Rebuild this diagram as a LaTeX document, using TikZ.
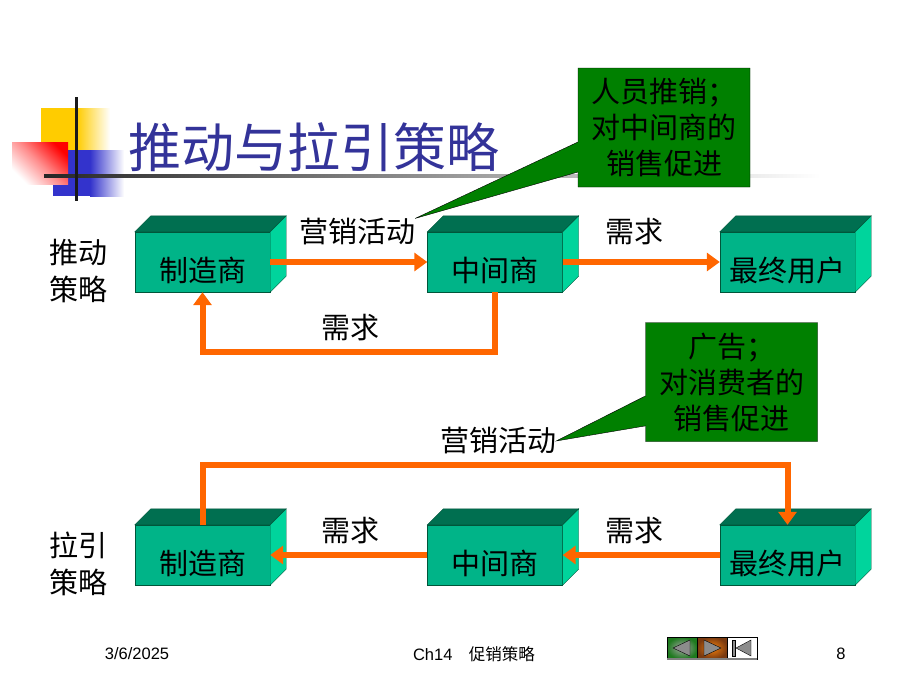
\documentclass[tikz,border=0pt]{standalone}
\usepackage{fontspec}
\setmainfont{Liberation Sans}
\newfontfamily\cjk{Noto Sans CJK SC}
\usetikzlibrary{arrows.meta,calc,shapes.callouts,shadings}
\definecolor{BoxFront}{HTML}{00B488}
\definecolor{BoxTop}{HTML}{006F50}
\definecolor{BoxSide}{HTML}{00D49C}
\definecolor{BoxEdge}{HTML}{00563A}
\definecolor{FlowOrange}{HTML}{FF6600}
\definecolor{NoteGreen}{HTML}{008000}
\definecolor{TitleBlue}{HTML}{333399}
\definecolor{DecoYellow}{HTML}{FFCC00}
\definecolor{DecoBlue}{HTML}{3333CC}
\definecolor{NavGreen}{HTML}{1E7A1E}
\definecolor{NavBrown}{HTML}{7A3A10}

\begin{document}
\begin{tikzpicture}[x=1pt,y=-1pt,
    party/.style={draw=BoxEdge,fill=BoxFront,minimum width=135pt,minimum height=60pt,inner sep=0pt,
      text height=38pt,text depth=0pt,font=\cjk\fontsize{29}{34}\selectfont},
    flow/.style={FlowOrange,line width=6pt,-{Triangle[length=13pt,width=18pt]}},
    word/.style={font=\cjk\fontsize{29}{37}\selectfont,inner sep=0pt},
    note/.style={rectangle callout,draw=black,fill=NoteGreen,minimum width=172pt,minimum height=119pt,
      align=center,font=\cjk\fontsize{29}{36}\selectfont,callout pointer width=30pt},
    navbtn/.style={draw=black,minimum width=30pt,minimum height=22pt,inner sep=0pt}]
    \useasboundingbox (0,0) rectangle (900,675);
    % corner decoration
    \fill[DecoYellow] (41,108) rectangle (77,150);
    \shade[left color=DecoYellow,right color=white] (77,108) rectangle (110,150);
    \fill[DecoBlue] (53,150) rectangle (90,196);
    \shade[left color=DecoBlue,right color=white] (90,150) rectangle (124,196);
    \shade[top color=red,bottom color=white,middle color=red!45,shading angle=-45] (12,142) rectangle (68,184);
    \shade[left color=black!85,right color=white] (44,174.5) rectangle (820,177.5);
    \draw[line width=3pt,black!90] (76,97) -- (76,201);
    \node[font=\cjk\fontsize{53}{60}\selectfont,text=TitleBlue,inner sep=0pt] (title) at (314,147) {推动与拉引策略};
    % boxes
    \foreach \name/\x/\y/\txt in {pm/202.5/262/制造商,pi/495/262/中间商,pu/787.5/262/最终用户,
      lm/202.5/555/制造商,li/495/555/中间商,lu/787.5/555/最终用户} {
     \node[party] (\name) at (\x,\y) {\txt};
    }
    \foreach \name in {pm,pi,pu,lm,li,lu} {
     \filldraw[BoxTop,draw=BoxEdge] (\name.north west) -- ++(16,-16) -- ($(\name.north east)+(16,-16)$) -- (\name.north east) -- cycle;
     \filldraw[BoxSide,draw=BoxEdge] (\name.north east) -- ++(16,-16) -- ($(\name.south east)+(16,-16)$) -- (\name.south east) -- cycle;
    }
    % flows
    \draw[flow] (pm.east) -- (pi.west);
    \draw[flow] (pi.east) -- (pu.west);
    \draw[flow] (pi.south) -- ++(0,60) -| (pm.south);
    \draw[flow] (lm.north) -- ++(0,-60) -| (lu.north);
    \draw[flow] (lu.west) -- (li.east);
    \draw[flow] (li.west) -- (lm.east);
    % labels
    \node[word] (pushact) at (357,232) {营销活动};
    \node[word] (pushneed) at (634,232) {需求};
    \node[word] (pushback) at (350,328) {需求};
    \node[word] (pullact) at (498,441) {营销活动};
    \node[word] (pullneedl) at (350,531) {需求};
    \node[word] (pullneedr) at (634,531) {需求};
    \node[word,align=center] (pushside) at (78,271) {推动\\策略};
    \node[word,align=center] (pullside) at (78,564) {拉引\\策略};
    \node[note,callout absolute pointer={(pushact.north east)}] (pushnote) at (664,127.5) {人员推销；\\对中间商的\\销售促进};
    \node[note,callout absolute pointer={(pullact.east)}] (pullnote) at (731.5,382) {广告；\\对消费者的\\销售促进};
    % footer
    \node[font=\fontsize{16.5}{20}\selectfont] (date) at (137,654) {3/6/2025};
    \node[font=\fontsize{16.5}{20}\selectfont] (chapter) at (474,654) {Ch14\quad{\cjk 促销策略}};
    \node[font=\fontsize{16.5}{20}\selectfont] (page) at (841,654) {8};
    \node[navbtn,inner color=gray!70,outer color=NavGreen] (navprev) at (682,648) {};
    \node[navbtn,inner color=orange!80!brown,outer color=NavBrown] (navnext) at (712,648) {};
    \node[navbtn,fill=white] (navhome) at (742,648) {};
    \filldraw[fill=black!45,draw=black] ($(navprev.center)+(-9,0)$) -- ++(17,-8) -- ++(0,16) -- cycle;
    \filldraw[fill=black!45,draw=black] ($(navnext.center)+(9,0)$) -- ++(-17,-8) -- ++(0,16) -- cycle;
    \filldraw[fill=black!45,draw=black] ($(navhome.center)+(-6,0)$) -- ++(15,-8) -- ++(0,16) -- cycle;
    \filldraw[fill=black!45,draw=black] ($(navhome.center)+(-10,-8)$) rectangle ++(3,16);
    \draw[gray,line width=1.5pt] (navprev.south west) -- (navhome.south east);
\end{tikzpicture}
\end{document}
